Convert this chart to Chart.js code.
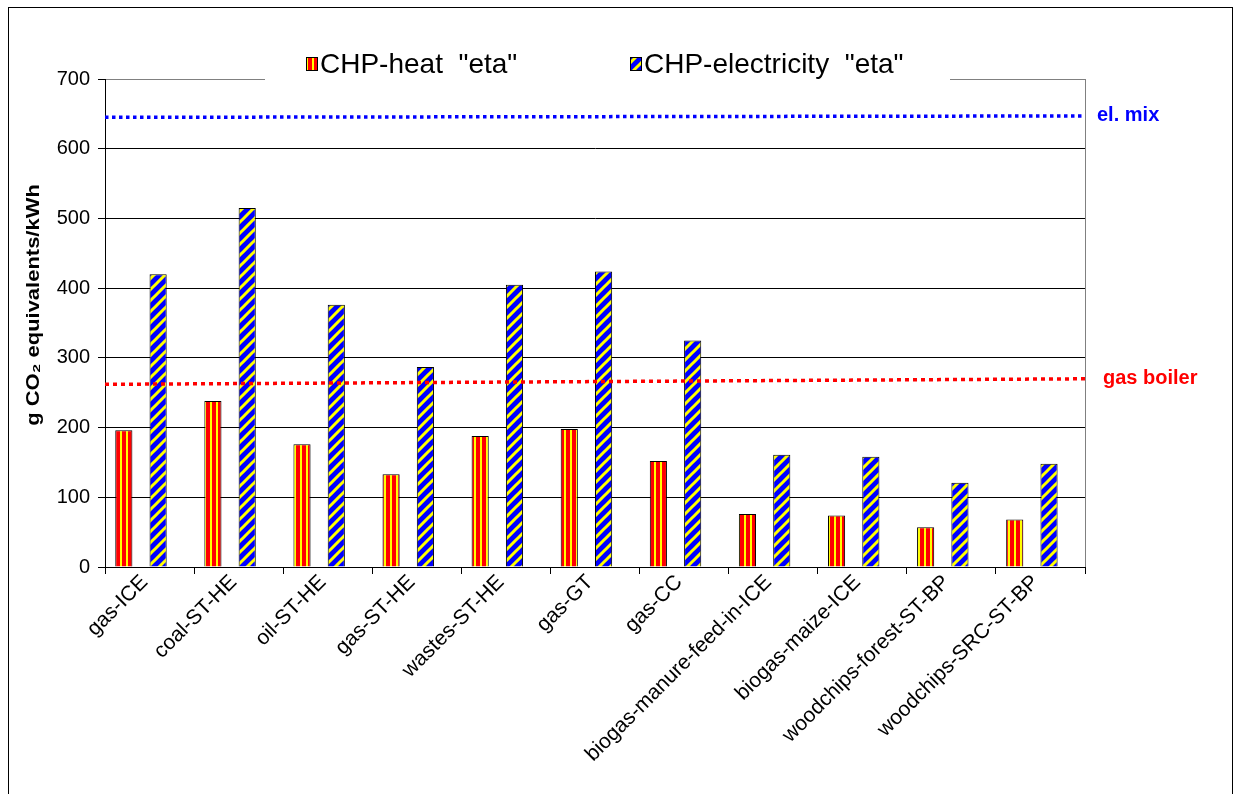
<!DOCTYPE html>
<html>
<head>
<meta charset="utf-8">
<script src="https://cdn.jsdelivr.net/npm/chart.js@4"></script>
<style>
  html, body { margin: 0; padding: 0; background: #fff; }
  canvas { display: block; }
</style>
</head>
<body>
<canvas id="chart" width="1241" height="794"></canvas>
<script>
// Plant types on the category axis
const categories = [
  'gas-ICE', 'coal-ST-HE', 'oil-ST-HE', 'gas-ST-HE', 'wastes-ST-HE', 'gas-GT', 'gas-CC',
  'biogas-manure-feed-in-ICE', 'biogas-maize-ICE', 'woodchips-forest-ST-BP', 'woodchips-SRC-ST-BP'
];
// g CO2 equivalents per kWh
const heatEta = [196, 238, 176, 133, 188, 198, 152, 76, 74, 57, 68];
const electricityEta = [420, 515, 376, 287, 405, 424, 325, 161, 158, 121, 148];
// Reference levels (value at the left / right end of the dotted line)
const elMix = [645, 647];
const gasBoiler = [262, 270];
const seriesLabels = ['CHP-heat  "eta"', 'CHP-electricity  "eta"'];
const refLabels = ['el. mix', 'gas boiler'];
const yAxisTitle = 'g CO\u2082 equivalents/kWh';

const FONT = '"Liberation Sans", Arial, Helvetica, sans-serif';

// Fill patterns
function heatPattern() {
  const c = document.createElement('canvas');
  c.width = 6; c.height = 6;
  const g = c.getContext('2d');
  g.fillStyle = '#FF0000'; g.fillRect(0, 0, 6, 6);
  g.fillStyle = '#FFFF00'; g.fillRect(0, 0, 2, 6);
  return g.createPattern(c, 'repeat');
}
function elecPattern() {
  const s = 11;
  const c = document.createElement('canvas');
  c.width = s; c.height = s;
  const g = c.getContext('2d');
  g.fillStyle = '#0000FF'; g.fillRect(0, 0, s, s);
  g.strokeStyle = '#FFFF00'; g.lineWidth = 3;
  g.beginPath();
  g.moveTo(-2, s + 2); g.lineTo(s + 2, -2);
  g.moveTo(-2, 2); g.lineTo(2, -2);
  g.moveTo(s - 2, s + 2); g.lineTo(s + 2, s - 2);
  g.stroke();
  return g.createPattern(c, 'repeat');
}
const ctx = document.getElementById('chart').getContext('2d');
const heatFill = heatPattern();
const elecFill = elecPattern();

const referenceLines = [
  { values: elMix, label: refLabels[0], color: '#0000FF', dash: [3.5, 3.5], labelX: 1097, extend: 0 },
  { values: gasBoiler, label: refLabels[1], color: '#FF0000', dash: [4, 4], labelX: 1103, extend: 3 }
];

// Outer frame, reference lines, legend box, axis title and line labels
const decorations = {
  id: 'decorations',
  beforeDraw(chart) {
    const c = chart.ctx;
    c.save();
    c.fillStyle = '#fff';
    c.fillRect(0, 0, chart.width, chart.height);
    c.strokeStyle = '#000';
    c.lineWidth = 1;
    c.strokeRect(8.5, 7.5, 1224, 820);
    c.restore();
  },
  afterDatasetsDraw(chart) {
    const c = chart.ctx;
    const area = chart.chartArea;
    const y = chart.scales.y;
    c.save();
    // plot-area right border
    c.strokeStyle = '#808080';
    c.lineWidth = 1;
    c.beginPath();
    c.moveTo(Math.round(area.right) + 0.5, area.top);
    c.lineTo(Math.round(area.right) + 0.5, area.bottom);
    c.stroke();

    // dotted reference levels across the plot
    referenceLines.forEach(r => {
      c.save();
      c.strokeStyle = r.color;
      c.lineWidth = 3.5;
      c.lineCap = 'butt';
      c.setLineDash(r.dash);
      c.beginPath();
      c.moveTo(area.left, y.getPixelForValue(r.values[0]));
      c.lineTo(area.right + r.extend, y.getPixelForValue(r.values[1]));
      c.stroke();
      c.restore();
    });

    // legend
    c.fillStyle = '#fff';
    c.fillRect(265, 40, 685, 44);
    c.font = '28px ' + FONT;
    c.textBaseline = 'middle';
    c.textAlign = 'left';
    const items = [
      { fill: heatFill, x: 306, label: seriesLabels[0] },
      { fill: elecFill, x: 630, label: seriesLabels[1] }
    ];
    items.forEach(it => {
      c.fillStyle = it.fill;
      c.fillRect(it.x, 57, 12, 14);
      c.strokeStyle = '#000';
      c.lineWidth = 1;
      c.strokeRect(it.x + 0.5, 57.5, 11, 13);
      c.fillStyle = '#000';
      c.fillText(it.label, it.x + 14, 65);
    });

    // y axis title
    c.save();
    c.translate(34, (area.top + area.bottom) / 2 - 18);
    c.rotate(-Math.PI / 2);
    c.scale(1.22, 1);
    c.font = 'bold 18px ' + FONT;
    c.textAlign = 'center';
    c.fillStyle = '#000';
    c.fillText(yAxisTitle, 0, 0);
    c.restore();

    // reference line labels
    c.font = 'bold 20px ' + FONT;
    c.textAlign = 'left';
    referenceLines.forEach(r => {
      c.fillStyle = r.color;
      c.fillText(r.label, r.labelX, y.getPixelForValue(r.values[1]));
    });
    c.restore();
  }
};

new Chart(ctx, {
  type: 'bar',
  data: {
    labels: categories,
    datasets: [
      { label: seriesLabels[0], data: heatEta, backgroundColor: heatFill, borderColor: '#000', borderWidth: 1 },
      { label: 'spacer-a', data: categories.map(() => null) },
      { label: seriesLabels[1], data: electricityEta, backgroundColor: elecFill, borderColor: '#000', borderWidth: 1 },
      { label: 'spacer-b', data: categories.map(() => null) }
    ]
  },
  options: {
    responsive: false,
    animation: false,
    events: [],
    categoryPercentage: 0.77,
    barPercentage: 1.0,
    layout: { padding: { left: 0, right: 156, top: 79, bottom: 0 } },
    plugins: { legend: { display: false }, tooltip: { enabled: false } },
    scales: {
      x: {
        type: 'category',
        offset: true,
        grid: { offset: true, drawOnChartArea: false, drawTicks: true, tickLength: 7, color: '#000' },
        border: { display: true, color: '#000', width: 1 },
        ticks: { color: '#000', font: { family: FONT, size: 21 }, minRotation: 45, maxRotation: 45, autoSkip: false, padding: -4, labelOffset: -5 },
        afterFit(scale) { scale.height = 227; }
      },
      y: {
        min: 0, max: 700,
        ticks: { stepSize: 100, color: '#000', font: { family: FONT, size: 20 }, padding: 8 },
        grid: { color: c => (c.tick && c.tick.value === 700 ? '#808080' : '#000'), lineWidth: 1, tickLength: 7, tickColor: '#000' },
        border: { display: true, color: '#000', width: 1 },
        afterFit(scale) { scale.width = 105; }
      }
    }
  },
  plugins: [decorations]
});
</script>
</body>
</html>
